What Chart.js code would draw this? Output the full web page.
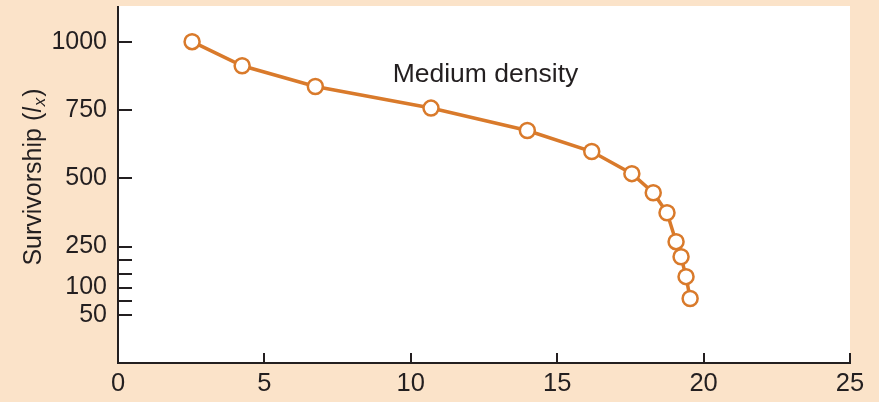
<!DOCTYPE html>
<html>
<head>
<meta charset="utf-8">
<script src="https://cdn.jsdelivr.net/npm/chart.js@4"></script>
<style>
  html, body { margin: 0; padding: 0; background: #fbe3c9; }
  canvas { display: block; }
</style>
</head>
<body>
<canvas id="c" width="879" height="402"></canvas>
<script>
// ---- data ----
const ages = [2.53, 4.24, 6.74, 10.69, 13.98, 16.18, 17.55, 18.28, 18.75, 19.06, 19.23, 19.40, 19.54];
const survivors = [1000, 912, 836, 757, 675, 598, 517, 447, 374, 268, 213, 140, 60];
const yTickValues = [1000, 750, 500, 250, 200, 150, 100, 50, 0];
const yTickLabels = ['1000', '750', '500', '250', '', '', '100', '', '50'];
const xTickValues = [0, 5, 10, 15, 20, 25];
const seriesLabel = 'Medium density';
const labelAnchor = { x: 12.55, y: 853 };
const yTitleParts = ['Survivorship (', 'l', 'x', ')'];

const ORANGE = '#d97a2b';
const INK = '#231f20';
const FONT = '"Liberation Sans", Arial, Helvetica, sans-serif';
const PANEL_TOP = 6;

const bgPlugin = {
  id: 'bg',
  beforeDraw(chart) {
    const { ctx, chartArea: a } = chart;
    ctx.save();
    ctx.fillStyle = '#ffffff';
    ctx.fillRect(a.left, PANEL_TOP, a.right - a.left, a.bottom - PANEL_TOP);
    ctx.restore();
  }
};

const decoPlugin = {
  id: 'deco',
  afterDraw(chart) {
    const { ctx, chartArea: a, scales } = chart;
    ctx.save();
    ctx.strokeStyle = INK;
    ctx.lineWidth = 2;
    // extend y axis line to panel top
    ctx.beginPath();
    ctx.moveTo(a.left, PANEL_TOP);
    ctx.lineTo(a.left, a.top + 1);
    ctx.stroke();
    // inward y ticks
    yTickValues.forEach(v => {
      const py = Math.round(scales.y.getPixelForValue(v));
      ctx.beginPath();
      ctx.moveTo(a.left, py);
      ctx.lineTo(a.left + 14, py);
      ctx.stroke();
    });
    // inward x ticks
    xTickValues.forEach(v => {
      const px = Math.round(scales.x.getPixelForValue(v));
      ctx.beginPath();
      ctx.moveTo(px, a.bottom);
      ctx.lineTo(px, a.bottom - 10);
      ctx.stroke();
    });
    // series label
    ctx.fillStyle = INK;
    ctx.font = '26.5px ' + FONT;
    ctx.textAlign = 'center';
    ctx.textBaseline = 'alphabetic';
    ctx.fillText(seriesLabel, scales.x.getPixelForValue(labelAnchor.x), scales.y.getPixelForValue(labelAnchor.y));
    // y title with italic l and subscript x
    const cx = 34, cy = 177;
    ctx.translate(cx, cy);
    ctx.rotate(-Math.PI / 2);
    const fNorm = '25px ' + FONT;
    const fIt = 'italic 25px ' + FONT;
    const fSub = 'italic 17px ' + FONT;
    ctx.font = fNorm; const w0 = ctx.measureText(yTitleParts[0]).width;
    ctx.font = fIt; const w1 = ctx.measureText(yTitleParts[1]).width;
    ctx.font = fSub; const w2 = ctx.measureText(yTitleParts[2]).width;
    ctx.font = fNorm; const w3 = ctx.measureText(yTitleParts[3]).width;
    let x = -(w0 + w1 + w2 + w3 + 2) / 2;
    ctx.textAlign = 'left';
    ctx.textBaseline = 'middle';
    ctx.font = fNorm; ctx.fillText(yTitleParts[0], x, 0); x += w0;
    ctx.font = fIt; ctx.fillText(yTitleParts[1], x, 0); x += w1 + 1;
    ctx.font = fSub; ctx.fillText(yTitleParts[2], x, 6); x += w2 + 1;
    ctx.font = fNorm; ctx.fillText(yTitleParts[3], x, 0);
    ctx.restore();
  }
};

new Chart(document.getElementById('c'), {
  type: 'line',
  data: {
    datasets: [{
      label: seriesLabel,
      data: ages.map((a, i) => ({ x: a, y: survivors[i] })),
      borderColor: ORANGE,
      borderWidth: 3.5,
      pointRadius: 7.5,
      pointHoverRadius: 7.5,
      pointBorderWidth: 2.5,
      pointBackgroundColor: '#ffffff',
      pointBorderColor: ORANGE,
      tension: 0,
      fill: false
    }]
  },
  options: {
    responsive: false,
    animation: false,
    events: [],
    layout: { padding: { top: 6, right: 29, left: 0, bottom: 0 } },
    plugins: { legend: { display: false }, tooltip: { enabled: false } },
    scales: {
      x: {
        type: 'linear',
        min: 0, max: 25,
        afterBuildTicks(s) { s.ticks = xTickValues.map(v => ({ value: v })); },
        afterFit(s) { s.height = 39; s.paddingLeft = 0; s.paddingRight = 0; },
        grid: { display: false, drawTicks: false },
        border: { display: true, color: INK, width: 2 },
        ticks: { color: INK, font: { family: FONT, size: 25.5 }, padding: 6, maxRotation: 0, autoSkip: false }
      },
      y: {
        type: 'linear',
        min: -176, max: 1116,
        afterBuildTicks(s) { s.ticks = yTickValues.map(v => ({ value: v })); },
        afterFit(s) { s.width = 118; s.paddingTop = 0; s.paddingBottom = 0; },
        grid: { display: false, drawTicks: false },
        border: { display: true, color: INK, width: 2 },
        ticks: {
          color: INK, font: { family: FONT, size: 25 }, padding: 11, autoSkip: false,
          callback(v) { const i = yTickValues.indexOf(v); return i >= 0 ? yTickLabels[i] : ''; }
        }
      }
    }
  },
  plugins: [bgPlugin, decoPlugin]
});
</script>
</body>
</html>
